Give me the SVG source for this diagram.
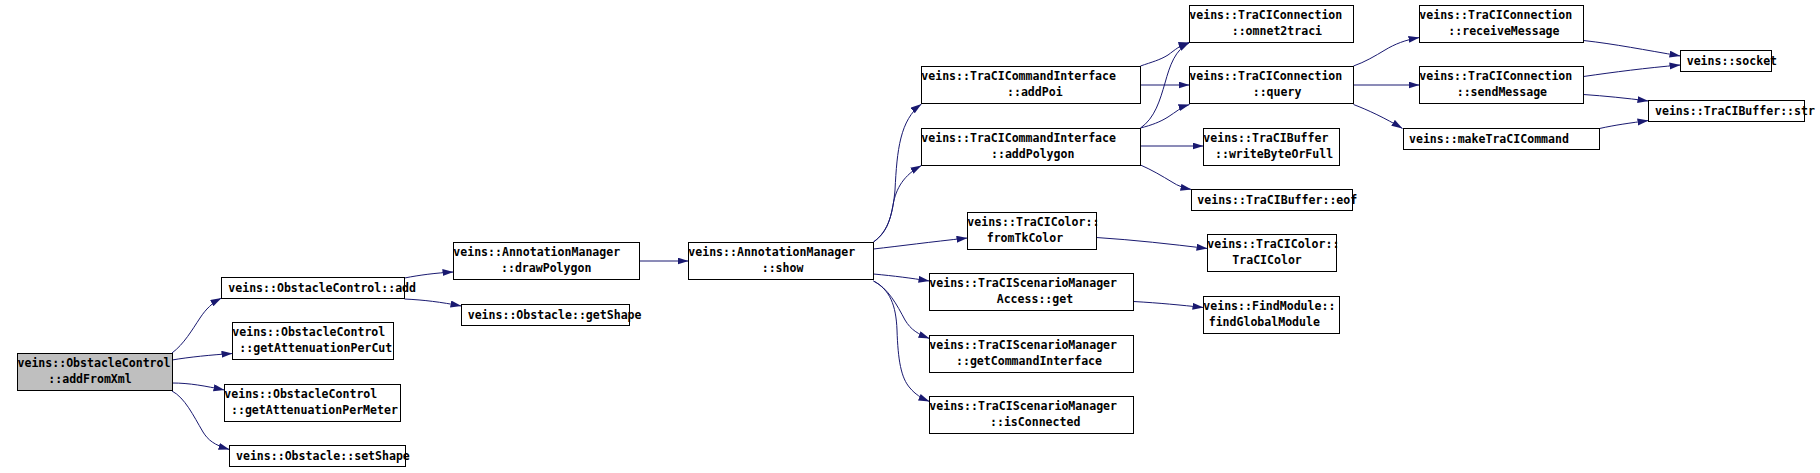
<svg xmlns="http://www.w3.org/2000/svg" width="1820" height="473" viewBox="0 0 1820 473">
<style>
.n rect{fill:#ffffff;stroke:#000000;stroke-width:1}
.n.root rect{fill:#bfbfbf}
.n text{font-family:"DejaVu Sans Mono","Liberation Mono",monospace;font-weight:bold;font-size:11.55px;fill:#000000}
.e path{fill:none;stroke:#191970;stroke-width:1;marker-end:url(#arr)}
</style>
<defs>
<marker id="arr" markerWidth="12" markerHeight="8" refX="11" refY="3.5" orient="auto" markerUnits="userSpaceOnUse">
<path d="M0,0 L11,3.5 L0,7 z" fill="#191970" stroke="none"/>
</marker>
</defs>
<rect width="1820" height="473" fill="#ffffff"/>
<g id="connectors" class="e">
<path d="M172,353 C184,344 192,330 200,318 C206,309 212,303 221.5,298"/>
<path d="M172,360 C190,357 210,355 232.5,353.5"/>
<path d="M172,383 C190,383 205,386 224.5,390"/>
<path d="M172,391 C185,398 193,415 203,432 C208,440 214,445 229.5,449.5"/>
<path d="M404.5,278 C420,275 435,273 453.5,272"/>
<path d="M404.5,299 C425,300 440,302 461.5,306"/>
<path d="M639.5,261 L688.5,261"/>
<path d="M873.5,242 C889,231 893,212 895,190 C897,150 900,120 921.5,104"/>
<path d="M873.5,242 C886,233 890,222 893,205 C896,188 904,175 921.5,165.5"/>
<path d="M873.5,249 C900,246 930,242 967.5,238"/>
<path d="M873.5,274 C895,276 910,278 929.5,281"/>
<path d="M873.5,281 C888,288 897,305 905,320 C911,330 918,334 929.5,338.5"/>
<path d="M873.5,281 C890,290 896,305 897,330 C898,360 901,378 910,388 C915,394 921,398 929.5,401.5"/>
<path d="M1140.5,66 C1152,62 1160,60 1168,55 C1175,50 1180,45 1189.5,42.5"/>
<path d="M1140.5,85 L1189.5,85"/>
<path d="M1140.5,128 C1155,118 1160,100 1165,83 C1170,65 1175,50 1189.5,42.5"/>
<path d="M1140.5,128 C1152,125 1160,122 1168,117 C1176,112 1181,107 1189.5,104.5"/>
<path d="M1140.5,146 L1203.5,146"/>
<path d="M1140.5,165 C1152,170 1162,176 1172,182 C1178,186 1184,188 1191.5,189.5"/>
<path d="M1096.5,237.5 C1135,240 1170,244 1207.5,248.5"/>
<path d="M1133.5,301.5 C1160,303 1180,305 1203.5,307.5"/>
<path d="M1353.5,66 C1365,62 1375,56 1385,50 C1395,44 1405,40 1419.5,37.5"/>
<path d="M1353.5,85 L1419.5,85"/>
<path d="M1353.5,104.5 C1368,110 1385,118 1402.5,128.5"/>
<path d="M1583.5,40.5 C1615,44 1645,50 1680.5,56"/>
<path d="M1583.5,76.5 C1615,72 1645,68 1680.5,65"/>
<path d="M1583.5,94.5 C1605,96 1625,98 1648.5,101"/>
<path d="M1599.5,128.5 C1615,125 1630,123 1648.5,120.5"/>
</g>
<g id="n_addFromXml" class="n root"><rect x="17.5" y="353.5" width="155" height="37"/><text x="17.5" y="367">veins::ObstacleControl</text><text x="48.3" y="383">::addFromXml</text></g>
<g id="n_add" class="n"><rect x="221.5" y="277.5" width="183" height="21"/><text x="228.3" y="292">veins::ObstacleControl::add</text></g>
<g id="n_getAttenuationPerCut" class="n"><rect x="232.5" y="322.5" width="161" height="37"/><text x="232.3" y="336">veins::ObstacleControl</text><text x="239.3" y="352">::getAttenuationPerCut</text></g>
<g id="n_getAttenuationPerMeter" class="n"><rect x="224.5" y="384.5" width="176" height="37"/><text x="224.3" y="398">veins::ObstacleControl</text><text x="231" y="414">::getAttenuationPerMeter</text></g>
<g id="n_setShape" class="n"><rect x="229.5" y="445.5" width="176" height="21"/><text x="236" y="460">veins::Obstacle::setShape</text></g>
<g id="n_drawPolygon" class="n"><rect x="453.5" y="242.5" width="186" height="37"/><text x="453.3" y="256">veins::AnnotationManager</text><text x="501" y="272">::drawPolygon</text></g>
<g id="n_getShape" class="n"><rect x="461.5" y="304.5" width="168" height="21"/><text x="467.7" y="319">veins::Obstacle::getShape</text></g>
<g id="n_show" class="n"><rect x="688.5" y="242.5" width="185" height="37"/><text x="688.3" y="256">veins::AnnotationManager</text><text x="761.7" y="272">::show</text></g>
<g id="n_addPoi" class="n"><rect x="921.5" y="66.5" width="219" height="37"/><text x="921.3" y="80">veins::TraCICommandInterface</text><text x="1007" y="96">::addPoi</text></g>
<g id="n_addPolygon" class="n"><rect x="921.5" y="128.5" width="219" height="37"/><text x="921.3" y="142">veins::TraCICommandInterface</text><text x="991" y="158">::addPolygon</text></g>
<g id="n_fromTkColor" class="n"><rect x="967.5" y="212.5" width="129" height="37"/><text x="967.3" y="226">veins::TraCIColor::</text><text x="986.7" y="242">fromTkColor</text></g>
<g id="n_accessGet" class="n"><rect x="929.5" y="273.5" width="204" height="37"/><text x="929.3" y="287">veins::TraCIScenarioManager</text><text x="996.7" y="303">Access::get</text></g>
<g id="n_getCommandInterface" class="n"><rect x="929.5" y="335.5" width="204" height="37"/><text x="929.3" y="349">veins::TraCIScenarioManager</text><text x="956" y="365">::getCommandInterface</text></g>
<g id="n_isConnected" class="n"><rect x="929.5" y="396.5" width="204" height="37"/><text x="929.3" y="410">veins::TraCIScenarioManager</text><text x="990" y="426">::isConnected</text></g>
<g id="n_omnet2traci" class="n"><rect x="1189.5" y="5.5" width="164" height="37"/><text x="1189.3" y="19">veins::TraCIConnection</text><text x="1231.7" y="35">::omnet2traci</text></g>
<g id="n_query" class="n"><rect x="1189.5" y="66.5" width="164" height="37"/><text x="1189.3" y="80">veins::TraCIConnection</text><text x="1252.7" y="96">::query</text></g>
<g id="n_writeByteOrFull" class="n"><rect x="1203.5" y="128.5" width="136" height="37"/><text x="1203.3" y="142">veins::TraCIBuffer</text><text x="1215" y="158">::writeByteOrFull</text></g>
<g id="n_eof" class="n"><rect x="1191.5" y="189.5" width="161" height="21"/><text x="1197.3" y="204">veins::TraCIBuffer::eof</text></g>
<g id="n_TraCIColor" class="n"><rect x="1207.5" y="234.5" width="129" height="37"/><text x="1207.3" y="248">veins::TraCIColor::</text><text x="1232.3" y="264">TraCIColor</text></g>
<g id="n_findGlobalModule" class="n"><rect x="1203.5" y="296.5" width="136" height="37"/><text x="1203.3" y="310">veins::FindModule::</text><text x="1208.7" y="326">findGlobalModule</text></g>
<g id="n_receiveMessage" class="n"><rect x="1419.5" y="5.5" width="164" height="37"/><text x="1419.3" y="19">veins::TraCIConnection</text><text x="1448.3" y="35">::receiveMessage</text></g>
<g id="n_sendMessage" class="n"><rect x="1419.5" y="66.5" width="164" height="37"/><text x="1419.3" y="80">veins::TraCIConnection</text><text x="1456.7" y="96">::sendMessage</text></g>
<g id="n_makeTraCICommand" class="n"><rect x="1403.5" y="128.5" width="196" height="21"/><text x="1409" y="143">veins::makeTraCICommand</text></g>
<g id="n_socket" class="n"><rect x="1680.5" y="50.5" width="91" height="21"/><text x="1686.7" y="65">veins::socket</text></g>
<g id="n_str" class="n"><rect x="1648.5" y="100.5" width="156" height="21"/><text x="1655" y="115">veins::TraCIBuffer::str</text></g>
</svg>
